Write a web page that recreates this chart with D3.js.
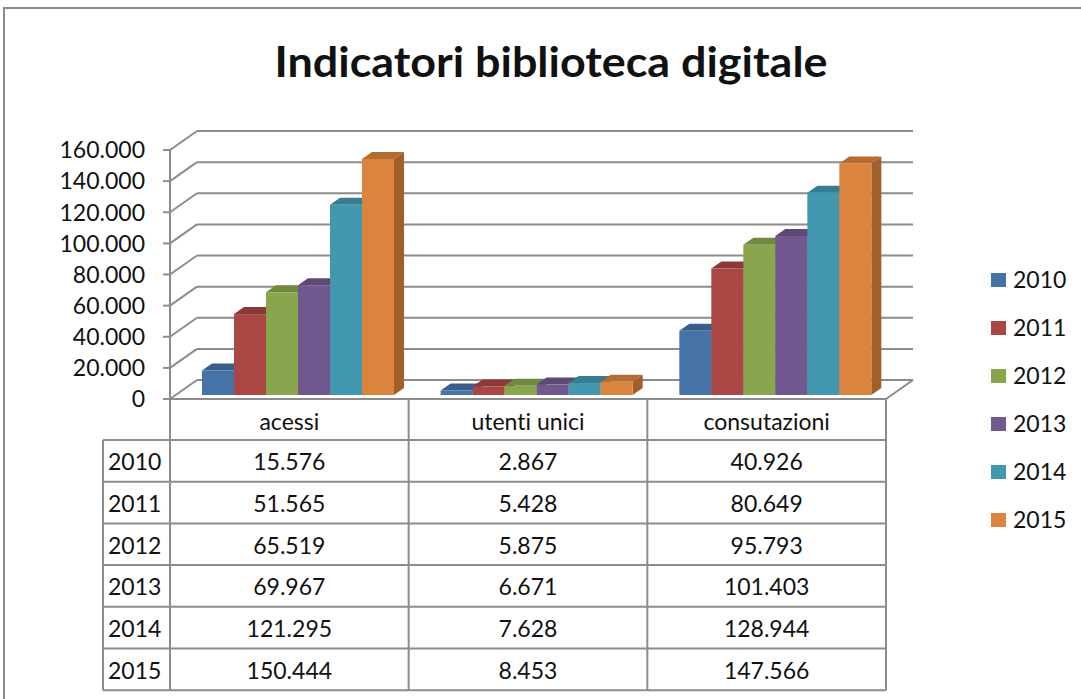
<!DOCTYPE html>
<html>
<head>
<meta charset="utf-8">
<script src="https://cdn.jsdelivr.net/npm/d3@7"></script>
<style>
  body { margin: 0; background: #fff; }
  text { font-family: Lato, "Open Sans", sans-serif; fill: #111; font-variant-ligatures: none; }
</style>
</head>
<body>
<div id="chart"></div>
<script>
// Data
const categories = ['acessi', 'utenti unici', 'consutazioni'];
const years = ['2010', '2011', '2012', '2013', '2014', '2015'];
const acessi = [15576, 51565, 65519, 69967, 121295, 150444];
const utentiUnici = [2867, 5428, 5875, 6671, 7628, 8453];
const consultazioni = [40926, 80649, 95793, 101403, 128944, 147566];
const yTicks = [0, 20000, 40000, 60000, 80000, 100000, 120000, 140000, 160000];
const colors = ['#4572A7', '#AA4643', '#89A54E', '#71588F', '#4198AF', '#DB843D'];

const seriesByCat = [acessi, utentiUnici, consultazioni];

const width = 1081;
const height = 699;

const itLocale = d3.formatLocale({ decimal: ',', thousands: '.', grouping: [3], currency: ['€', ''] });
const fmt = itLocale.format(',d');

const svg = d3.select('#chart')
    .append('svg')
    .attr('width', width)
    .attr('height', height);

// Outer frame
svg.append('rect')
    .attr('x', 4).attr('y', 8)
    .attr('width', 1100).attr('height', 720)
    .attr('fill', '#fff')
    .attr('stroke', '#8a8a8a')
    .attr('stroke-width', 2);

// Title
svg.append('text')
    .attr('x', 551).attr('y', 77)
    .attr('text-anchor', 'middle')
    .attr('font-size', 42)
    .attr('font-weight', 'bold')
    .attr('textLength', 553)
    .attr('lengthAdjust', 'spacingAndGlyphs')
    .text('Indicatori biblioteca digitale');

// Scales
const plotLeft = 170, plotRight = 886;
const depthX = 27, depthY = -19;
const y = d3.scaleLinear().domain([0, 160000]).range([399, 150]);
const yBar = d3.scaleLinear().domain([0, 160000]).range([395, 144]);
const x = d3.scaleBand().domain(categories).range([plotLeft, plotRight]);
const xInner = d3.scaleBand().domain(years).range([32, 224]);

const gridColor = '#8c8c8c';

// Back wall gridlines and left wall diagonals
const grid = svg.append('g');
yTicks.forEach(t => {
    const yy = y(t);
    grid.append('line')
        .attr('x1', plotLeft + depthX).attr('x2', plotRight + depthX)
        .attr('y1', yy + depthY).attr('y2', yy + depthY)
        .attr('stroke', gridColor).attr('stroke-width', 2);
    grid.append('line')
        .attr('x1', plotLeft).attr('y1', yy)
        .attr('x2', plotLeft + depthX).attr('y2', yy + depthY)
        .attr('stroke', gridColor).attr('stroke-width', 2);
    // tick mark
    grid.append('line')
        .attr('x1', plotLeft - 7).attr('x2', plotLeft)
        .attr('y1', yy).attr('y2', yy)
        .attr('stroke', gridColor).attr('stroke-width', 2);
    grid.append('text')
        .attr('x', 145).attr('y', yy)
        .attr('dy', '0.36em')
        .attr('text-anchor', 'end')
        .attr('font-size', 23)
        .text(fmt(t));
});

// Floor right edge
grid.append('line')
    .attr('x1', plotRight).attr('y1', y(0))
    .attr('x2', plotRight + depthX).attr('y2', y(0) + depthY)
    .attr('stroke', gridColor).attr('stroke-width', 2);

// Axis line
grid.append('line')
    .attr('x1', plotLeft).attr('x2', plotLeft)
    .attr('y1', y(160000)).attr('y2', 690)
    .attr('stroke', gridColor).attr('stroke-width', 2);

// Bars
const barDx = 10, barDy = -7;
const bars = svg.append('g');
categories.forEach((cat, ci) => {
    const values = seriesByCat[ci];
    years.forEach((yr, i) => {
        const v = values[i];
        const x0 = x(cat) + xInner(yr);
        const w = xInner.bandwidth();
        const top = yBar(v);
        const base = yBar(0);
        const c = d3.color(colors[i]);
        // side face
        bars.append('path')
            .attr('d', `M${x0 + w},${base} L${x0 + w + barDx},${base + barDy} L${x0 + w + barDx},${top + barDy} L${x0 + w},${top} Z`)
            .attr('fill', c.darker(0.9));
        // top face
        bars.append('path')
            .attr('d', `M${x0},${top} L${x0 + barDx},${top + barDy} L${x0 + w + barDx},${top + barDy} L${x0 + w},${top} Z`)
            .attr('fill', c.darker(0.55));
        // front face
        bars.append('rect')
            .attr('x', x0).attr('y', top)
            .attr('width', w).attr('height', base - top)
            .attr('fill', colors[i]);
    });
});

// Data table
const rowTop = 399, headerH = 41, rowH = 41.7;
const tableBottom = rowTop + headerH + rowH * years.length;
const yearColLeft = 103;
const table = svg.append('g');

// horizontal lines
table.append('line')
    .attr('x1', plotLeft).attr('x2', plotRight)
    .attr('y1', rowTop).attr('y2', rowTop)
    .attr('stroke', gridColor).attr('stroke-width', 2);
d3.range(years.length + 1).forEach(r => {
    const yy = rowTop + headerH + r * rowH;
    table.append('line')
        .attr('x1', yearColLeft).attr('x2', plotRight)
        .attr('y1', yy).attr('y2', yy)
        .attr('stroke', gridColor).attr('stroke-width', 2);
});
// vertical lines
categories.forEach(cat => {
    table.append('line')
        .attr('x1', x(cat) + x.bandwidth()).attr('x2', x(cat) + x.bandwidth())
        .attr('y1', rowTop).attr('y2', tableBottom)
        .attr('stroke', gridColor).attr('stroke-width', 2);
});
table.append('line')
    .attr('x1', yearColLeft).attr('x2', yearColLeft)
    .attr('y1', rowTop + headerH).attr('y2', tableBottom)
    .attr('stroke', gridColor).attr('stroke-width', 2);

// header text
categories.forEach(cat => {
    table.append('text')
        .attr('x', x(cat) + x.bandwidth() / 2)
        .attr('y', rowTop + headerH / 2 + 2)
        .attr('dy', '0.36em')
        .attr('text-anchor', 'middle')
        .attr('font-size', 23)
        .text(cat);
});

// rows
years.forEach((yr, i) => {
    const cy = rowTop + headerH + i * rowH + rowH / 2 + 1;
    table.append('text')
        .attr('x', 108).attr('y', cy)
        .attr('dy', '0.36em')
        .attr('font-size', 23)
        .text(yr);
    categories.forEach((cat, ci) => {
        table.append('text')
            .attr('x', x(cat) + x.bandwidth() / 2)
            .attr('y', cy)
            .attr('dy', '0.36em')
            .attr('text-anchor', 'middle')
            .attr('font-size', 23)
            .text(fmt(seriesByCat[ci][i]));
    });
});

// Legend
const legend = svg.append('g');
years.forEach((yr, i) => {
    const ly = 280 + i * 48;
    legend.append('rect')
        .attr('x', 991).attr('y', ly - 7)
        .attr('width', 15).attr('height', 14)
        .attr('fill', colors[i]);
    legend.append('text')
        .attr('x', 1013).attr('y', ly)
        .attr('dy', '0.36em')
        .attr('font-size', 23)
        .text(yr);
});
</script>
</body>
</html>
